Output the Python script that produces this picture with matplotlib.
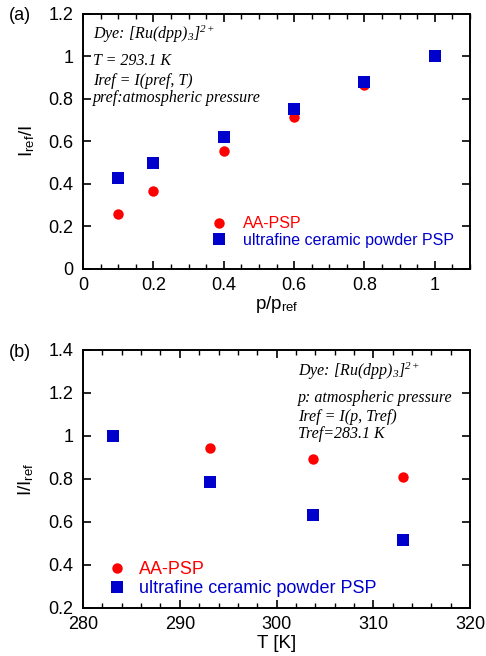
import numpy as np
import matplotlib
matplotlib.use('Agg')
import matplotlib.pyplot as plt
from matplotlib.ticker import MultipleLocator, FuncFormatter

plt.rcParams['font.family'] = ['Liberation Sans', 'DejaVu Sans']
plt.rcParams['mathtext.fontset'] = 'custom'
plt.rcParams['mathtext.rm'] = 'Liberation Serif:italic'
plt.rcParams['mathtext.it'] = 'Liberation Serif:italic'
plt.rcParams['mathtext.sf'] = 'Liberation Sans'

# panel (a): pressure dependence
p_ratio = [0.1, 0.2, 0.4, 0.6, 0.8, 1.0]
aa_psp_a = [0.26, 0.368, 0.555, 0.715, 0.866, 1.0]
ceramic_a = [0.427, 0.497, 0.622, 0.752, 0.877, 1.0]

# panel (b): temperature dependence
temp_K = [283.1, 293.1, 303.8, 313.1]
aa_psp_b = [1.0, 0.945, 0.891, 0.81]
ceramic_b = [1.0, 0.787, 0.634, 0.516]

labels = ['AA-PSP', 'ultrafine ceramic powder PSP']
red = '#ff0000'
blue = '#0000cc'

note_a = [r'Dye: [Ru(dpp)$_{3}$]$^{2+}$', 'T = 293.1 K', 'Iref = I(pref, T)',
          'pref:atmospheric pressure']
note_b = [r'Dye: [Ru(dpp)$_{3}$]$^{2+}$', 'p: atmospheric pressure',
          'Iref = I(p, Tref)', 'Tref=283.1 K']

fig = plt.figure(figsize=(4.86, 6.56), dpi=100)
ax1 = fig.add_axes([0.171, 0.590, 0.796, 0.389])
ax2 = fig.add_axes([0.171, 0.0732, 0.796, 0.3933])

fmt = FuncFormatter(lambda v, pos: '%g' % round(v, 6))


def style(ax):
    ax.tick_params(which='both', direction='in', top=True, right=True, labelsize=13)
    ax.tick_params(which='major', length=6, width=1.2)
    ax.tick_params(which='minor', length=3.5, width=1.0)
    ax.tick_params(axis='y', pad=7)
    ax.tick_params(axis='x', pad=6)
    for s in ax.spines.values():
        s.set_linewidth(1.4)
    ax.xaxis.set_major_formatter(fmt)
    ax.yaxis.set_major_formatter(fmt)


# (a)
ax1.plot(p_ratio, aa_psp_a, 'o', color=red, ms=7.5, mew=0, label=labels[0])
ax1.plot(p_ratio, ceramic_a, 's', color=blue, ms=8.5, mew=0, label=labels[1])
ax1.set_xlim(0, 1.1)
ax1.set_ylim(0, 1.2)
ax1.xaxis.set_major_locator(MultipleLocator(0.2))
ax1.xaxis.set_minor_locator(MultipleLocator(0.05))
ax1.yaxis.set_major_locator(MultipleLocator(0.2))
style(ax1)
ax1.set_xlabel(r'p/p$_{\mathsf{ref}}$', fontsize=13.5, labelpad=0)
ax1.set_ylabel(r'I$_{\mathsf{ref}}$/I', fontsize=13.5, labelpad=8)
ax1.legend(loc='upper left', bbox_to_anchor=(0.315, 0.232), frameon=False, fontsize=11.5,
           handlelength=1.0, handletextpad=1.0, labelspacing=0.12, borderaxespad=0,
           labelcolor='markerfacecolor')
for txt, yy in zip(note_a, [0.902, 0.80, 0.722, 0.655]):
    ax1.text(0.026, yy, txt, transform=ax1.transAxes, family='Liberation Serif',
             style='italic', fontsize=11.5, va='baseline')
fig.text(0.018, 0.976, '(a)', fontsize=13, va='center')

# (b)
ax2.plot(temp_K, aa_psp_b, 'o', color=red, ms=7.5, mew=0, label=labels[0])
ax2.plot(temp_K, ceramic_b, 's', color=blue, ms=8.5, mew=0, label=labels[1])
ax2.set_xlim(280, 320)
ax2.set_ylim(0.2, 1.4)
ax2.xaxis.set_major_locator(MultipleLocator(10))
ax2.xaxis.set_minor_locator(MultipleLocator(2))
ax2.yaxis.set_major_locator(MultipleLocator(0.2))
style(ax2)
ax2.set_xlabel('T [K]', fontsize=13.5, labelpad=1)
ax2.set_ylabel(r'I/I$_{\mathsf{ref}}$', fontsize=13.5, labelpad=9)
ax2.legend(loc='upper left', bbox_to_anchor=(0.045, 0.21), frameon=False, fontsize=13,
           handlelength=1.0, handletextpad=0.75, labelspacing=0.1, borderaxespad=0,
           labelcolor='markerfacecolor')
for txt, yy in zip(note_b, [0.900, 0.800, 0.726, 0.658]):
    ax2.text(0.556, yy, txt, transform=ax2.transAxes, family='Liberation Serif',
             style='italic', fontsize=11.5, va='baseline')
fig.text(0.018, 0.462, '(b)', fontsize=13, va='center')

fig.savefig('out.png', dpi=100)
